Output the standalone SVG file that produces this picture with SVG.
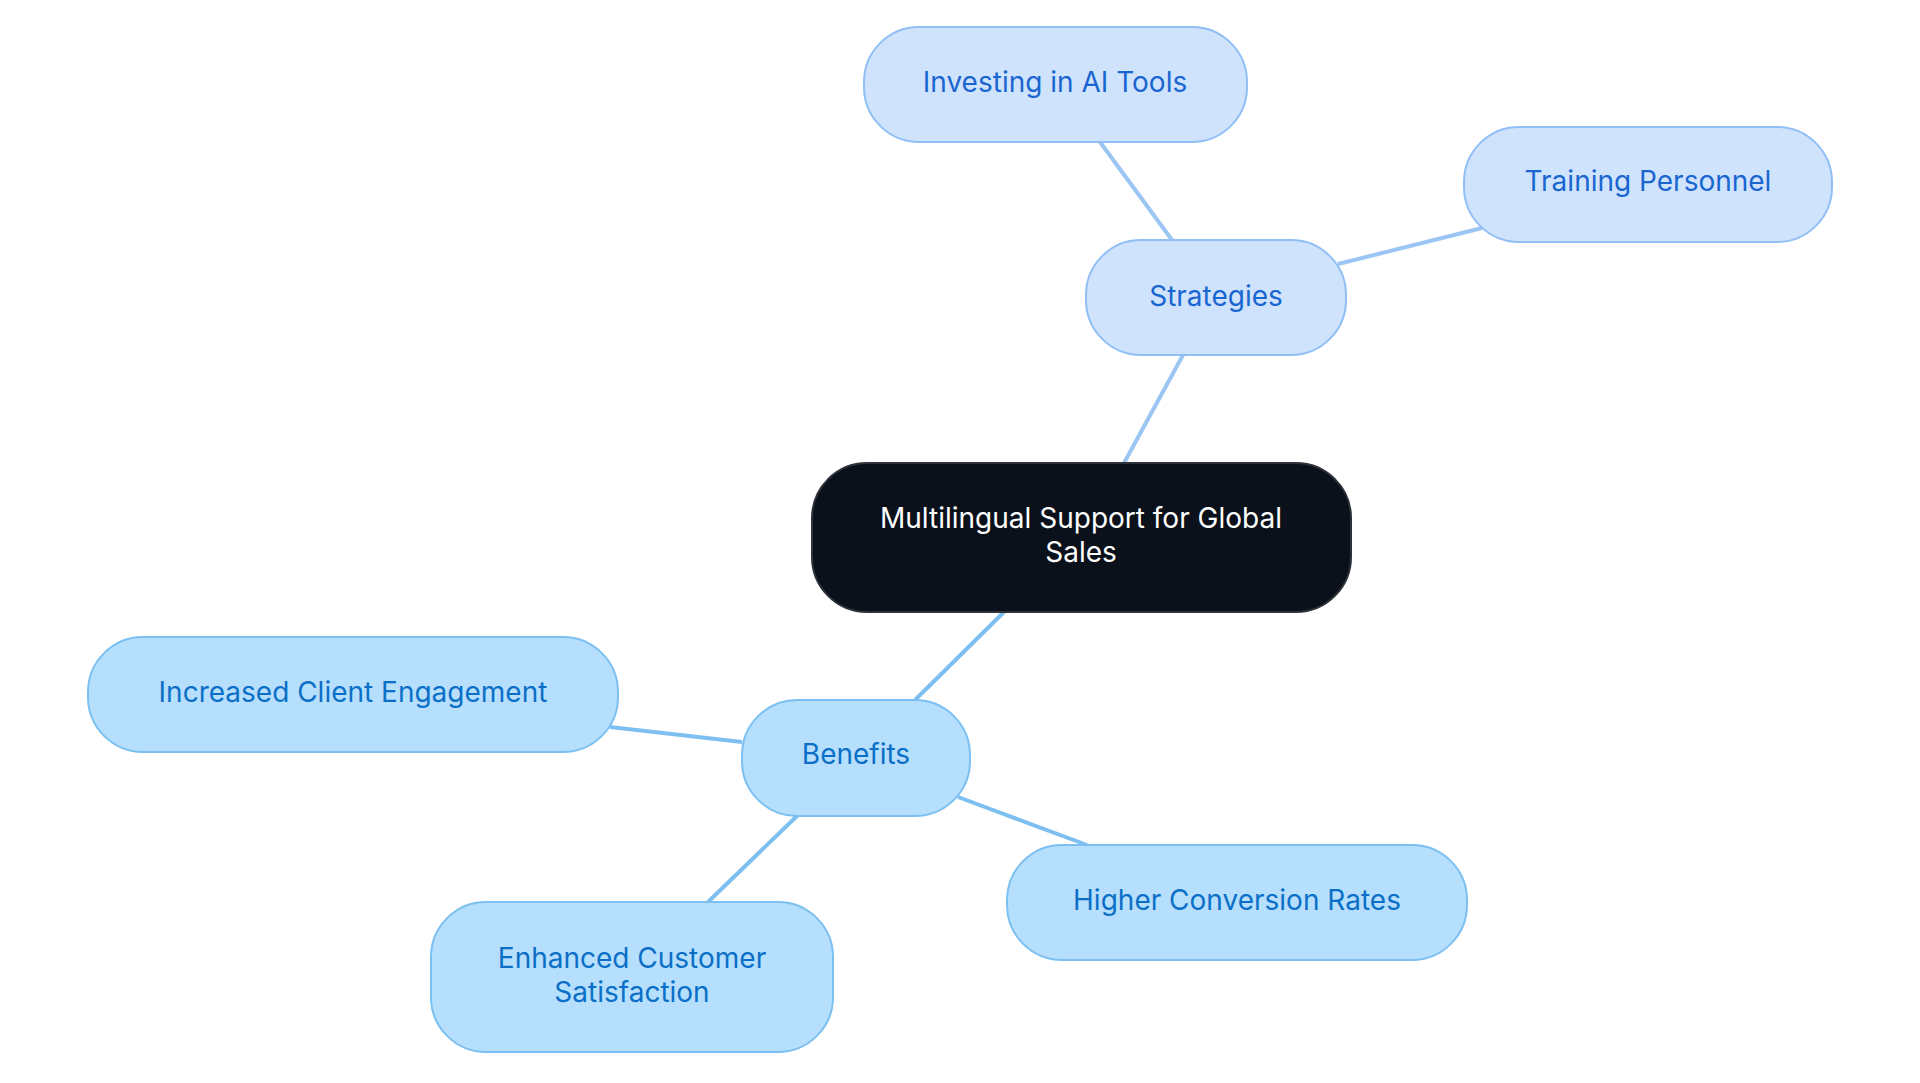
<svg xmlns="http://www.w3.org/2000/svg" width="1920" height="1083" viewBox="0 0 1920 1083">
<style>
text{font-family:Inter,"Noto Sans",sans-serif;font-size:28px;text-anchor:middle;dominant-baseline:central}
.s rect{fill:#cfe3fc;stroke:#90bff5;stroke-width:2}
.s text{fill:#1a66d1}
.b rect{fill:#b5dffd;stroke:#7cc0f2;stroke-width:2}
.b text{fill:#0b6fc7}
.es{stroke:#9bc6f4;stroke-width:4;fill:none}
.eb{stroke:#7dbff0;stroke-width:4;fill:none}
</style>
<rect width="1920" height="1083" fill="#fff"/>
<g id="connectors">
<line class="es" x1="1124" y1="463" x2="1183" y2="355"/>
<line class="es" x1="1172" y1="240" x2="1100" y2="142"/>
<line class="es" x1="1338" y1="264" x2="1482" y2="228"/>
<line class="eb" x1="1004" y1="612" x2="915" y2="700"/>
<line class="eb" x1="742" y1="742" x2="610" y2="727"/>
<line class="eb" x1="958" y1="797" x2="1087" y2="845"/>
<line class="eb" x1="797" y1="816" x2="708" y2="902"/>
</g>
<g id="root"><rect x="812" y="463" width="539" height="149" rx="55" fill="#0b111b" stroke="#2e3239" stroke-width="2"/>
<text x="1081" y="518" fill="#fff">Multilingual Support for Global</text><text x="1081" y="552" fill="#fff">Sales</text></g>
<g id="strategies" class="s"><rect x="1086" y="240" width="260" height="115" rx="55"/><text x="1216" y="296">Strategies</text></g>
<g id="investing" class="s"><rect x="864" y="27" width="383" height="115" rx="55"/><text x="1055" y="82">Investing in AI Tools</text></g>
<g id="training" class="s"><rect x="1464" y="127" width="368" height="115" rx="55"/><text x="1648" y="181">Training Personnel</text></g>
<g id="benefits" class="b"><rect x="742" y="700" width="228" height="116" rx="55"/><text x="856" y="754">Benefits</text></g>
<g id="increased" class="b"><rect x="88" y="637" width="530" height="115" rx="55"/><text x="353" y="692">Increased Client Engagement</text></g>
<g id="higher" class="b"><rect x="1007" y="845" width="460" height="115" rx="55"/><text x="1237" y="900">Higher Conversion Rates</text></g>
<g id="enhanced" class="b"><rect x="431" y="902" width="402" height="150" rx="55"/><text x="632" y="958">Enhanced Customer</text><text x="632" y="992">Satisfaction</text></g>
</svg>
